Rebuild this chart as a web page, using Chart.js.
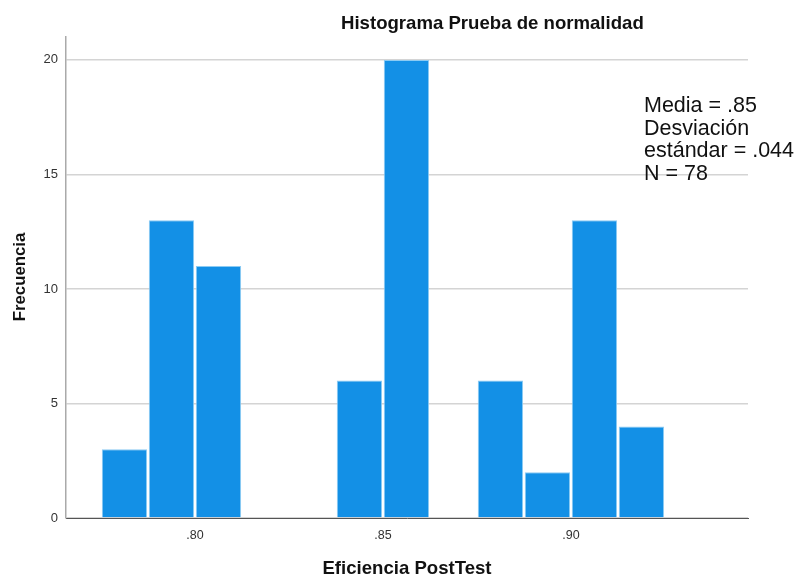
<!DOCTYPE html>
<html>
<head>
<meta charset="utf-8">
<script src="https://cdn.jsdelivr.net/npm/chart.js@4/dist/chart.umd.min.js"></script>
<style>
  html, body { margin: 0; padding: 0; background: #fff; }
  #wrap { width: 800px; height: 577px; position: relative; }
</style>
</head>
<body>
<div id="wrap"><canvas id="hist"></canvas></div>
<script>
// Histograma SPSS: barras por intervalo (ancho 0.0125)
var binCenters = [0.78125, 0.79375, 0.80625, 0.81875, 0.83125, 0.84375,
                  0.85625, 0.86875, 0.88125, 0.89375, 0.90625, 0.91875];
var counts = [3, 13, 11, 0, 0, 6, 20, 0, 6, 2, 13, 4];
var xTickValues = [0.80, 0.85, 0.90];
var xTickLabels = [".80", ".85", ".90"];
var yTickValues = [0, 5, 10, 15, 20];
var titleText = "Histograma Prueba de normalidad";
var xTitle = "Eficiencia PostTest";
var yTitle = "Frecuencia";
var statsLines = ["Media = .85", "Desviación", "estándar = .044", "N = 78"];

var FONT = "'Liberation Sans', Arial, sans-serif";
var BAR = "#1390e6";
var BAR_EDGE = "#8ccbf3";

var points = binCenters.map(function (x, i) {
  return { x: x, y: counts[i] === 0 ? null : counts[i] };
});

// títulos y cuadro de estadísticos dibujados a mano (SPSS los coloca fuera de sitio)
var textPlugin = {
  id: "spssText",
  afterDraw: function (chart) {
    var ctx = chart.ctx;
    var area = chart.chartArea;
    ctx.save();
    ctx.fillStyle = "#111";
    ctx.textBaseline = "alphabetic";

    ctx.font = "bold 18.6px " + FONT;
    ctx.textAlign = "left";
    ctx.fillText(titleText, 341, 29);

    ctx.textAlign = "center";
    ctx.fillText(xTitle, (area.left + area.right) / 2, 574);

    ctx.save();
    ctx.translate(25, 277);
    ctx.rotate(-Math.PI / 2);
    ctx.font = "bold 16.8px " + FONT;
    ctx.fillText(yTitle, 0, 0);
    ctx.restore();

    ctx.font = "21.5px " + FONT;
    ctx.textAlign = "left";
    statsLines.forEach(function (line, i) {
      ctx.fillText(line, 644, 112 + i * 22.5);
    });
    ctx.restore();
  }
};

new Chart(document.getElementById("hist"), {
  type: "bar",
  data: {
    datasets: [{
      data: points,
      backgroundColor: BAR,
      borderColor: BAR_EDGE,
      borderWidth: 1,
      borderSkipped: "bottom",
      barPercentage: 0.965,
      categoryPercentage: 1
    }]
  },
  plugins: [textPlugin],
  options: {
    responsive: true,
    maintainAspectRatio: false,
    animation: false,
    layout: { padding: { top: 37, right: 52, left: 0, bottom: 0 } },
    plugins: {
      legend: { display: false },
      tooltip: { enabled: false },
      title: { display: false }
    },
    scales: {
      x: {
        type: "linear",
        offset: false,
        min: 0.7657,
        max: 0.9471,
        afterFit: function (s) { s.height = 59; },
        afterBuildTicks: function (s) {
          s.ticks = xTickValues.map(function (v) { return { value: v }; });
        },
        grid: { display: false, drawTicks: false, offset: false },
        border: { display: true, color: "#555", width: 1 },
        ticks: {
          padding: 10,
          autoSkip: false,
          maxRotation: 0,
          color: "#333",
          font: { family: FONT, size: 12.5 },
          callback: function (v) {
            var i = xTickValues.indexOf(v);
            return i >= 0 ? xTickLabels[i] : "";
          }
        }
      },
      y: {
        min: 0,
        max: 21,
        afterFit: function (s) { s.width = 66; },
        afterBuildTicks: function (s) {
          s.ticks = yTickValues.map(function (v) { return { value: v }; });
        },
        grid: { color: "#d4d4d4", lineWidth: 1.5, drawTicks: false },
        border: { display: true, color: "#aaa", width: 1.5 },
        ticks: {
          padding: 8,
          color: "#333",
          font: { family: FONT, size: 13 }
        }
      }
    }
  }
});
</script>
</body>
</html>
